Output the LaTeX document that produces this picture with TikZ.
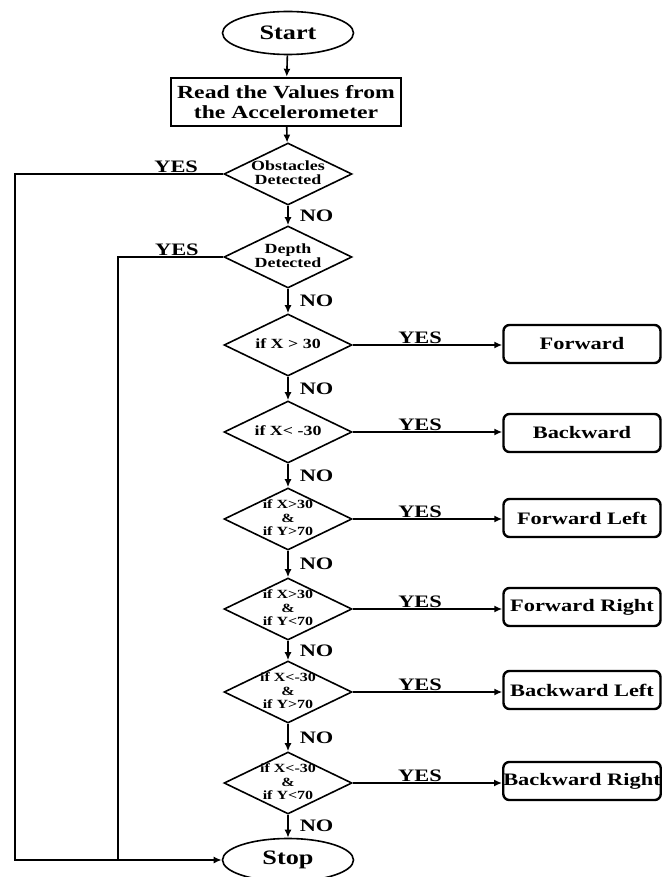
\documentclass[tikz,border=0pt]{standalone}
\usepackage{fontspec}
\setmainfont{Liberation Serif}[FakeStretch=1.28]
\usetikzlibrary{shapes.geometric,arrows.meta}
\newcommand{\dtxt}[1]{\smash{\raisebox{-0.3em}{\makebox[0pt]{\begin{tabular}{@{}c@{}}#1\end{tabular}}}}}
\tikzset{
  bigfont/.style={font=\bfseries\fontsize{17.5}{20}\selectfont},
  conn/.style={line width=1.6pt, -{Latex[length=8pt,width=7pt]}},
  plainline/.style={line width=1.6pt},
  term/.style={ellipse, draw, line width=1.6pt, minimum width=131pt, minimum height=43pt, inner sep=0pt, font=\bfseries\fontsize{20.5}{22}\selectfont},
  procbox/.style={rectangle, draw, line width=2.4pt, minimum width=230pt, minimum height=48pt, inner sep=0pt, align=center, font=\bfseries\fontsize{18.5}{20}\selectfont},
  dec/.style={diamond, draw, line width=1.6pt, minimum width=128pt, minimum height=62pt, inner sep=0pt, font=\bfseries\fontsize{14}{14}\selectfont},
  decthree/.style={dec, font=\bfseries\fontsize{12.5}{13.5}\selectfont},
  outbox/.style={rectangle, rounded corners=6pt, draw, line width=2.4pt, minimum width=157pt, minimum height=38pt, inner sep=0pt, bigfont},
  lab/.style={bigfont, inner sep=1pt},
  nolab/.style={lab, right=10pt},
  yeslab/.style={lab, above=0pt, pos=0.45},
}
\begin{document}
\begin{tikzpicture}[x=1pt,y=-1pt]
\useasboundingbox (0,0) rectangle (663,877);
\node[term] (start) at (288,33) {Start};
\node[procbox] (read) at (286,102) {Read the Values from\\the Accelerometer};
\node[dec] (obst) at (288,174) {\dtxt{Obstacles\\Detected}};
\node[dec] (depth) at (288,257) {\dtxt{Depth\\Detected}};
\node[dec] (d1) at (288,345) {\dtxt{if X > 30}};
\node[dec] (d2) at (288,432) {\dtxt{if X< -30}};
\node[decthree] (d3) at (288,519) {\dtxt{if X>30\\\&\\if Y>70}};
\node[decthree] (d4) at (288,609) {\dtxt{if  X>30\\\&\\if Y<70}};
\node[decthree] (d5) at (288,692) {\dtxt{if X<-30\\\&\\if Y>70}};
\node[decthree] (d6) at (288,783) {\dtxt{if X<-30\\\&\\if Y<70}};
\node[term] (stop) at (288,860) {Stop};

\node[outbox] (fwd) at (582,344) {Forward};
\node[outbox] (bwd) at (582,433) {Backward};
\node[outbox] (fl) at (582,518) {Forward Left};
\node[outbox] (fr) at (582,607) {Forward Right};
\node[outbox] (bl) at (582,690) {Backward Left};
\node[outbox] (br) at (582,781) {Backward Right};

\coordinate (cL) at (15,860);
\coordinate (cM) at (118,860);

\draw[conn] (start) -- (read);
\draw[conn] (read) -- (obst);
\draw[conn] (obst) -- node[nolab]{NO} (depth);
\draw[conn] (depth) -- node[nolab]{NO} (d1);
\draw[conn] (d1) -- node[nolab]{NO} (d2);
\draw[conn] (d2) -- node[nolab]{NO} (d3);
\draw[conn] (d3) -- node[nolab]{NO} (d4);
\draw[conn] (d4) -- node[nolab]{NO} (d5);
\draw[conn] (d5) -- node[nolab]{NO} (d6);
\draw[conn] (d6) -- node[nolab]{NO} (stop);

\draw[conn] (d1.east) -- node[yeslab]{YES} (d1.east -| fwd.west);
\draw[conn] (d2.east) -- node[yeslab]{YES} (d2.east -| bwd.west);
\draw[conn] (d3.east) -- node[yeslab]{YES} (d3.east -| fl.west);
\draw[conn] (d4.east) -- node[yeslab]{YES} (d4.east -| fr.west);
\draw[conn] (d5.east) -- node[yeslab]{YES} (d5.east -| bl.west);
\draw[conn] (d6.east) -- node[yeslab]{YES} (d6.east -| br.west);

\draw[conn] (obst.west) -| node[lab, above=0pt, pos=0.113]{YES} (cL) -- (stop.west);
\draw[plainline] (depth.west) -| node[lab, above=0pt, pos=0.22]{YES} (cM);
\end{tikzpicture}
\end{document}
